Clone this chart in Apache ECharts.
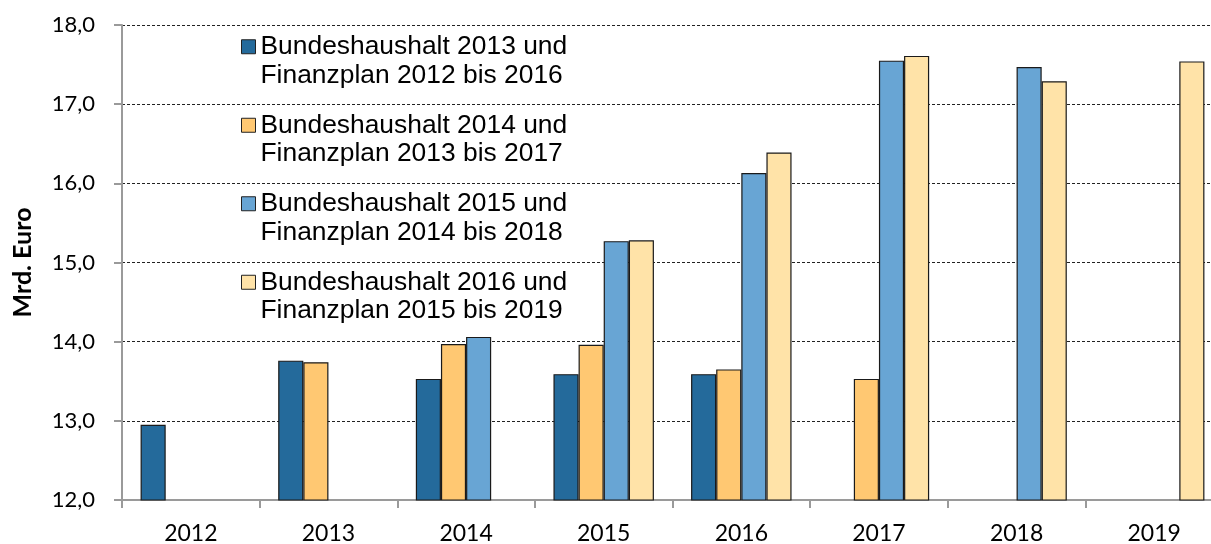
<!DOCTYPE html>
<html>
<head>
<meta charset="utf-8">
<script src="https://cdn.jsdelivr.net/npm/echarts@6/dist/echarts.min.js"></script>
<style>
  html, body { margin: 0; padding: 0; background: #fff; }
  #main { width: 1211px; height: 544px; }
</style>
</head>
<body>
<div id="main"></div>
<script>
// Jahre (Kategorien)
var years = ["2012", "2013", "2014", "2015", "2016", "2017", "2018", "2019"];

// Werte in Mrd. Euro je Haushalt / Finanzplan
var bh2013 = [12.95, 13.76, 13.53, 13.59, 13.59, null, null, null];
var bh2014 = [null, 13.74, 13.97, 13.96, 13.65, 13.53, null, null];
var bh2015 = [null, null, 14.06, 15.27, 16.13, 17.55, 17.47, null];
var bh2016 = [null, null, null, 15.28, 16.39, 17.61, 17.29, 17.54];

var seriesNames = [
  "Bundeshaushalt 2013 und\nFinanzplan 2012 bis 2016",
  "Bundeshaushalt 2014 und\nFinanzplan 2013 bis 2017",
  "Bundeshaushalt 2015 und\nFinanzplan 2014 bis 2018",
  "Bundeshaushalt 2016 und\nFinanzplan 2015 bis 2019"
];
var seriesData = [bh2013, bh2014, bh2015, bh2016];
var colors = ["#246A9B", "#FFC872", "#68A5D4", "#FFE3A8"];

var chart = echarts.init(document.getElementById("main"));

var series = seriesNames.map(function (name, i) {
  return {
    name: name,
    type: "bar",
    data: seriesData[i],
    barGap: "0%",
    barCategoryGap: "27%",
    itemStyle: {
      color: colors[i],
      borderColor: "#1a1a1a",
      borderWidth: 1.2
    }
  };
});

chart.setOption({
  animation: false,
  color: colors,
  legend: {
    orient: "vertical",
    left: 241,
    top: 4,
    padding: 0,
    itemGap: -7,
    itemWidth: 14,
    itemHeight: 14,
    icon: "rect",
    itemStyle: { borderColor: "#222", borderWidth: 1 },
    // leere erste Zeile, damit das Symbol auf Höhe der ersten Textzeile sitzt
    formatter: function (name) {
      return "\n" + name;
    },
    textStyle: {
      fontFamily: "Liberation Sans",
      fontSize: 26.4,
      lineHeight: 28.5,
      color: "#000"
    }
  },
  grid: {
    left: 122,
    top: 25,
    width: 1101,
    height: 475,
    outerBoundsMode: "none"
  },
  xAxis: {
    type: "category",
    data: years,
    axisLine: { lineStyle: { color: "#9a9a9a", width: 2 } },
    axisTick: { show: true, length: 8, lineStyle: { color: "#9a9a9a", width: 2 } },
    axisLabel: {
      margin: 22,
      fontFamily: "Lato",
      fontSize: 23,
      color: "#000"
    }
  },
  yAxis: {
    type: "value",
    min: 12,
    max: 18,
    interval: 1,
    name: "Mrd. Euro",
    nameLocation: "middle",
    nameRotate: 90,
    nameGap: 87,
    nameTextStyle: {
      fontFamily: "Lato",
      fontWeight: "bold",
      fontSize: 25,
      color: "#000"
    },
    axisLine: { show: true, lineStyle: { color: "#9a9a9a", width: 2 } },
    axisTick: { show: true, length: 8, lineStyle: { color: "#9a9a9a", width: 2 } },
    axisLabel: {
      margin: 27,
      fontFamily: "Lato",
      fontSize: 22,
      color: "#000",
      formatter: function (v) {
        return v.toFixed(1).replace(".", ",");
      }
    },
    splitLine: {
      lineStyle: { color: "#222", width: 1, type: [3, 2] }
    }
  },
  series: series
});
</script>
</body>
</html>
